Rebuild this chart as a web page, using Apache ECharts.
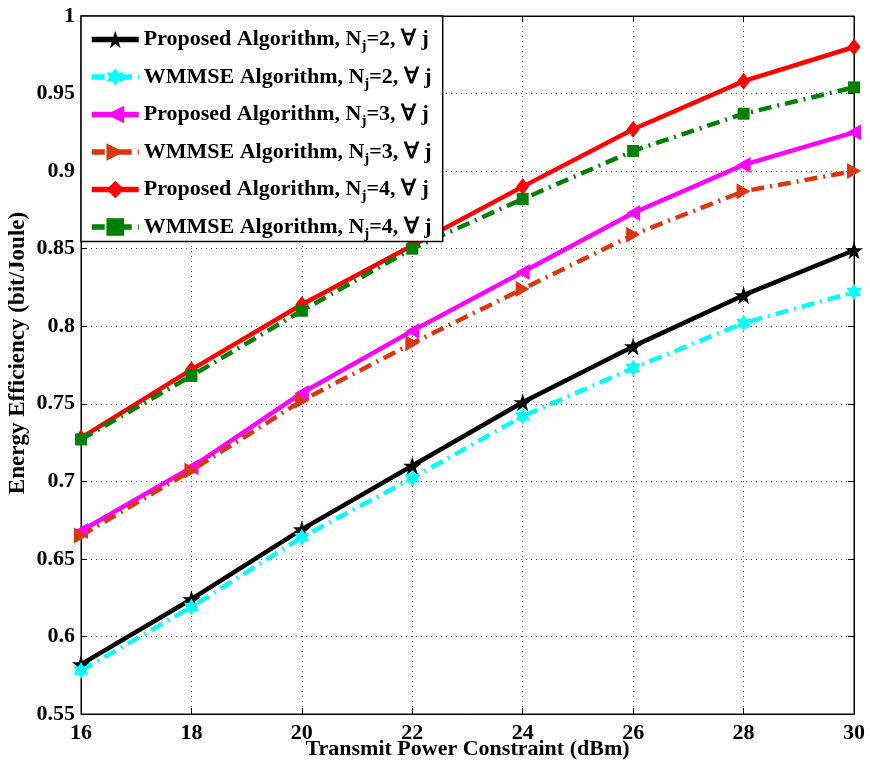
<!DOCTYPE html>
<html><head><meta charset="utf-8">
<script src="https://cdn.jsdelivr.net/npm/echarts@6/dist/echarts.min.js"></script>
<style>html,body{margin:0;padding:0;background:#fff}#c{width:870px;height:765px}</style>
</head><body><div id="c"></div>
<script>
const xValues = [16, 18, 20, 22, 24, 26, 28, 30];
const propN2 = [0.582, 0.624, 0.669, 0.710, 0.751, 0.787, 0.820, 0.849];
const wmmseN2 = [0.578, 0.619, 0.664, 0.702, 0.742, 0.773, 0.802, 0.822];
const propN3 = [0.668, 0.709, 0.757, 0.797, 0.835, 0.873, 0.904, 0.925];
const wmmseN3 = [0.665, 0.707, 0.752, 0.789, 0.824, 0.859, 0.887, 0.900];
const propN4 = [0.728, 0.772, 0.814, 0.852, 0.890, 0.927, 0.958, 0.980];
const wmmseN4 = [0.727, 0.768, 0.810, 0.850, 0.882, 0.913, 0.937, 0.954];
const seriesNames = [
  'Proposed Algorithm, N_j=2, ∀ j',
  'WMMSE Algorithm, N_j=2, ∀ j',
  'Proposed Algorithm, N_j=3, ∀ j',
  'WMMSE Algorithm, N_j=3, ∀ j',
  'Proposed Algorithm, N_j=4, ∀ j',
  'WMMSE Algorithm, N_j=4, ∀ j'
];
const xTitle = 'Transmit Power Constraint (dBm)';
const yTitle = 'Energy Efficiency (bit/Joule)';

const FONT = "'Liberation Serif','Times New Roman',serif";
const STAR5 = 'path://M50,0 L61.8,35.1 L98.1,35.1 L68.8,56.7 L79.4,90.9 L50,69.1 L20.6,90.9 L31.2,56.7 L1.9,35.1 L38.2,35.1 Z';
const STAR6 = 'path://M50,0 L64.4,25 L93.3,25 L78.9,50 L93.3,75 L64.4,75 L50,100 L35.6,75 L6.7,75 L21.1,50 L6.7,25 L35.6,25 Z';
const TRI_L = 'path://M0,50 L100,0 L100,100 Z';
const TRI_R = 'path://M100,50 L0,0 L0,100 Z';
const DASHDOT = [13, 6, 2, 6];

function pairs(ys) { return xValues.map((x, i) => [x, ys[i]]); }
function mk(name, ys, color, dash, symbol, size) {
  return {
    name, type: 'line', data: pairs(ys), symbol, symbolSize: size,
    showAllSymbol: true,
    lineStyle: { color, width: 4.5, type: dash ? DASHDOT : 'solid' },
    itemStyle: { color, borderColor: color, borderWidth: 0 },
    emphasis: { disabled: true }, animation: false
  };
}

const chart = echarts.init(document.getElementById('c'));
const gridLine = { show: true, lineStyle: { color: '#555', width: 1, type: [1, 4] } };
chart.setOption({
  backgroundColor: '#fff',
  animation: false,
  grid: { left: 81, right: 16, top: 16, bottom: 51, containLabel: false, outerBoundsMode: 'none',
    show: true, borderColor: '#000', borderWidth: 1, backgroundColor: 'transparent' },
  legend: {
    orient: 'vertical', left: 81, top: 16,
    backgroundColor: '#fff', borderColor: '#000', borderWidth: 1.5,
    padding: [9, 11, 0, 8],
    itemWidth: 47, itemHeight: 22, itemGap: 8.5,
    data: seriesNames,
    lineStyle: { width: 5.5 },
    formatter: function (name) {
      const parts = name.split('N_j');
      return '{a|' + parts[0] + 'N}{s|j}{a|' + parts[1] + '}';
    },
    textStyle: {
      color: '#000', fontFamily: FONT, fontWeight: 'bold', fontSize: 22,
      rich: {
        a: { fontFamily: FONT, fontWeight: 'bold', fontSize: 22, color: '#000', lineHeight: 24 },
        s: { fontFamily: FONT, fontWeight: 'bold', fontSize: 15, color: '#000', padding: [14, 0, 0, 0], lineHeight: 24 }
      }
    }
  },
  xAxis: [{
    type: 'value', min: 16, max: 30, interval: 2,
    name: xTitle, nameLocation: 'middle', nameGap: 24, nameMoveOverlap: false,
    nameTextStyle: { fontFamily: FONT, fontWeight: 'bold', fontSize: 22, color: '#000' },
    axisLine: { show: true, onZero: false, lineStyle: { color: '#000', width: 1 } },
    axisTick: { show: true, inside: true, length: 6, lineStyle: { color: '#000' } },
    axisLabel: { fontFamily: FONT, fontWeight: 'bold', fontSize: 22, color: '#000', margin: 8 },
    splitLine: gridLine
  }, {
    type: 'value', min: 16, max: 30, interval: 2, position: 'top',
    axisLine: { show: true, onZero: false, lineStyle: { color: '#000', width: 1 } },
    axisTick: { show: true, inside: true, length: 6, lineStyle: { color: '#000' } },
    axisLabel: { show: false }, splitLine: { show: false }
  }],
  yAxis: [{
    type: 'value', min: 0.55, max: 1, interval: 0.05,
    name: yTitle, nameLocation: 'middle', nameGap: 51, nameMoveOverlap: false,
    nameTextStyle: { fontFamily: FONT, fontWeight: 'bold', fontSize: 23, color: '#000', padding: [0, 0, 0, 24] },
    axisLine: { show: true, onZero: false, lineStyle: { color: '#000', width: 1 } },
    axisTick: { show: true, inside: true, length: 6, lineStyle: { color: '#000' } },
    axisLabel: { fontFamily: FONT, fontWeight: 'bold', fontSize: 22, color: '#000', margin: 6,
      formatter: v => String(+v.toFixed(2)) },
    splitLine: gridLine
  }, {
    type: 'value', min: 0.55, max: 1, interval: 0.05, position: 'right',
    axisLine: { show: true, onZero: false, lineStyle: { color: '#000', width: 1 } },
    axisTick: { show: true, inside: true, length: 6, lineStyle: { color: '#000' } },
    axisLabel: { show: false }, splitLine: { show: false }
  }],
  series: [
    mk(seriesNames[0], propN2, '#000000', false, STAR5, 18),
    mk(seriesNames[1], wmmseN2, '#00ffff', true, STAR6, [15, 17]),
    mk(seriesNames[2], propN3, '#ff00ff', false, TRI_L, [14, 16]),
    mk(seriesNames[3], wmmseN3, '#d9380e', true, TRI_R, [14, 16]),
    mk(seriesNames[4], propN4, '#ff0000', false, 'diamond', [13, 17]),
    mk(seriesNames[5], wmmseN4, '#008000', true, 'rect', 12)
  ]
});
</script>
</body></html>
